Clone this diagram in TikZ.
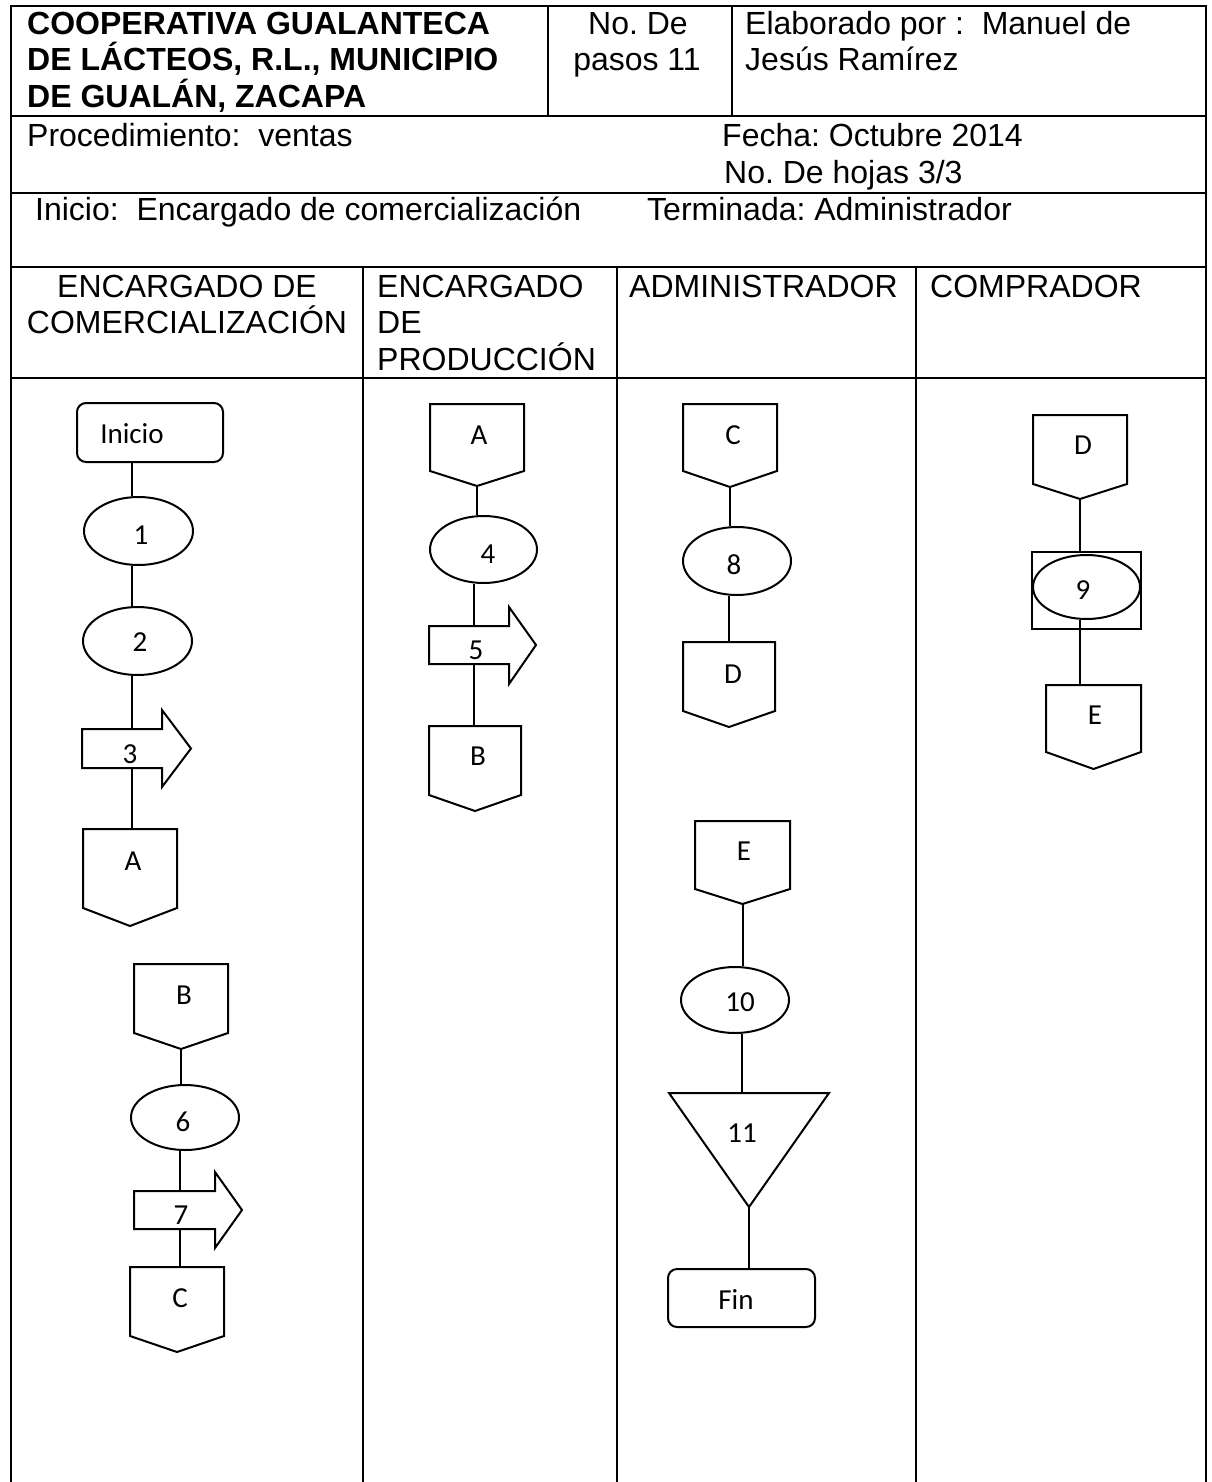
\documentclass[tikz,border=0pt]{standalone}
\usepackage{fontspec}
\setmainfont{Liberation Sans}
\newfontfamily\flowfont{Carlito}
\usetikzlibrary{shapes.geometric}
\frenchspacing

\tikzset{
  frame/.style={line width=1.9pt, line cap=rect},
  shp/.style={draw, line width=2pt, line join=miter},
  link/.style={line width=2pt},
  hdr/.style={font=\fontsize{32}{37}\selectfont, inner sep=0pt, anchor=base west},
  hdrb/.style={hdr, font=\fontsize{32}{37}\selectfont\bfseries},
  ftxt/.style={font=\flowfont\fontsize{29}{31}\selectfont, inner sep=0pt},
  oval/.style={shp, ellipse, inner sep=0pt},
  ghost/.style={inner sep=0pt, outer sep=0pt},
  termbox/.style={shp, rounded corners=9pt, inner sep=0pt},
}

% off-page connector: name, left, top, right, side bottom, tip y, text position, text
\newcommand\offpg[8]{%
  \node[ghost, minimum width={(#4)-(#2)}, minimum height={(#5)-(#3)}] (#1) at ({((#2)+(#4))/2},{((#3)+(#5))/2}) {};
  \coordinate (#1-tip) at ({((#2)+(#4))/2},#6);
  \draw[shp] (#1.north west) -- (#1.north east) -- (#1.south east) -- (#1-tip) -- (#1.south west) -- cycle;
  \node[ftxt] (#1-txt) at #7 {#8};
}
% block arrow: name, left, body top, head base x, body bottom, head top, head bottom, tip x
\newcommand\blkarrow[8]{%
  \node[ghost, minimum width={(#4)-(#2)}, minimum height={(#5)-(#3)}] (#1) at ({((#2)+(#4))/2},{((#3)+(#5))/2}) {};
  \draw[shp] (#1.north west) -- (#1.north east) -- (#4,#6) -- (#8,{((#3)+(#5))/2}) -- (#4,#7) -- (#1.south east) -- (#1.south west) -- cycle;
}

\begin{document}
\begin{tikzpicture}[x=1pt,y=-1pt]
\useasboundingbox (0,0) rectangle (1211,1482);

% ---------- frame ----------
\draw[frame] (11,1482) -- (11,6) -- (1206,6) -- (1206,1482);
\draw[frame] (11,116) -- (1206,116);
\draw[frame] (11,193) -- (1206,193);
\draw[frame] (11,267) -- (1206,267);
\draw[frame] (11,378) -- (1206,378);
\draw[frame] (548,6) -- (548,116);
\draw[frame] (732,6) -- (732,116);
\draw[frame] (363,267) -- (363,1482);
\draw[frame] (617,267) -- (617,1482);
\draw[frame] (916,267) -- (916,1482);

% ---------- header texts ----------
\node[hdrb] (t1) at (27,35) {COOPERATIVA GUALANTECA};
\node[hdrb] (t2) at (27,71) {DE LÁCTEOS, R.L., MUNICIPIO};
\node[hdrb] (t3) at (27,108) {DE GUALÁN, ZACAPA};
\node[hdr, anchor=base] (n1) at (638,35) {No. De};
\node[hdr, anchor=base] (n2) at (637,71) {pasos 11};
\node[hdr] (el1) at (745,35) {Elaborado por :\ \ Manuel de};
\node[hdr] (el2) at (745,71) {Jesús Ramírez};
\node[hdr] (pr) at (27,147) {Procedimiento:\ \ ventas};
\node[hdr] (fe) at (722,147) {Fecha: Octubre 2014};
\node[hdr] (ho) at (724,183) {No. De hojas 3/3};
\node[hdr] (inl) at (35,220) {Inicio:\ \ Encargado de comercialización};
\node[hdr] (te) at (647,220) {Terminada: Administrador};
\node[hdr, anchor=base] (l1a) at (187,297) {ENCARGADO DE};
\node[hdr, anchor=base] (l1b) at (187,333) {COMERCIALIZACIÓN};
\node[hdr] (l2a) at (377,297) {ENCARGADO};
\node[hdr] (l2b) at (377,333) {DE};
\node[hdr] (l2c) at (377,370) {PRODUCCIÓN};
\node[hdr] (l3) at (629,297) {ADMINISTRADOR};
\node[hdr] (l4) at (930,297) {COMPRADOR};

% ---------- spines ----------
\coordinate (s1) at (132,0);
\coordinate (s1b) at (180,0);
\coordinate (s2) at (474,0);
\coordinate (s3) at (729,0);
\coordinate (s3b) at (742,0);
\coordinate (s4) at (1080,0);

% ---------- lane 1 ----------
\node[termbox, minimum width=146, minimum height=59] (ini) at (150,432.5) {};
\node[ftxt] (ini-txt) at (132,434) {Inicio};
\node[oval, minimum width=109, minimum height=68] (e1) at (138.5,531) {};
\node[ftxt] (e1-txt) at (141,535) {1};
\node[oval, minimum width=109, minimum height=68] (e2) at (137.5,641) {};
\node[ftxt] (e2-txt) at (140,642) {2};
\blkarrow{a3}{82}{729}{162}{768}{710}{787}{191}
\node[ftxt] (a3-txt) at (130,754) {3};
\offpg{c1A}{83}{829}{177}{908}{926}{(133,861)}{A}

\offpg{c1B}{134}{964}{228}{1033}{1049}{(184,995)}{B}
\node[oval, minimum width=108, minimum height=65] (e6) at (185,1117.5) {};
\node[ftxt] (e6-txt) at (183,1122) {6};
\blkarrow{a7}{134}{1191}{215}{1229}{1172}{1248}{242}
\node[ftxt] (a7-txt) at (181,1215) {7};
\offpg{c1C}{130}{1267}{224}{1336}{1352}{(180,1298)}{C}

% ---------- lane 2 ----------
\offpg{c2A}{430}{404}{524}{471}{486}{(479,435)}{A}
\node[oval, minimum width=107, minimum height=67] (e4) at (483.5,549.5) {};
\node[ftxt] (e4-txt) at (488,554) {4};
\blkarrow{a5}{429}{626}{509}{664}{607}{684}{536}
\node[ftxt] (a5-txt) at (476,650) {5};
\offpg{c2B}{429}{726}{521}{795}{811}{(478,756)}{B}

% ---------- lane 3 ----------
\offpg{c3C}{683}{404}{777}{471}{487}{(733,435)}{C}
\node[oval, minimum width=108, minimum height=68] (e8) at (737,561) {};
\node[ftxt] (e8-txt) at (734,565) {8};
\offpg{c3D}{683}{642}{775}{711}{727}{(733,674)}{D}

\offpg{c3E}{695}{821}{790}{889}{904}{(744,851)}{E}
\node[oval, minimum width=108, minimum height=66] (e10) at (735,1000) {};
\node[ftxt] (e10-txt) at (740,1002) {10};
\node[ghost, minimum width=160, minimum height=114] (t11) at (749,1150) {};
\draw[shp] (t11.north west) -- (t11.north east) -- (t11.south) -- cycle;
\node[ftxt] (t11-txt) at (742,1133) {11};
\node[termbox, minimum width=147, minimum height=58] (fin) at (741.5,1298) {};
\node[ftxt] (fin-txt) at (736,1300) {Fin};

% ---------- lane 4 ----------
\offpg{c4D}{1033}{415}{1127}{484}{499}{(1083,445)}{D}
\node[shp, inner sep=0pt, minimum width=109, minimum height=77] (r9) at (1086.5,590.5) {};
\node[oval, minimum width=107, minimum height=64] (e9) at (1086.5,587) {};
\node[ftxt] (e9-txt) at (1083,590) {9};
\offpg{c4E}{1046}{685}{1141}{752}{769}{(1095,715)}{E}

% ---------- connectors ----------
\draw[link] (ini.south -| s1) -- (e1.north -| s1);
\draw[link] (e1.south -| s1) -- (e2.north -| s1);
\draw[link] (e2.south -| s1) -- (a3.north -| s1);
\draw[link] (a3.south -| s1) -- (c1A.north -| s1);

\draw[link] (c1B-tip) -- (e6.north -| c1B-tip);
\draw[link] (e6.south -| s1b) -- (a7.north -| s1b);
\draw[link] (a7.south -| s1b) -- (c1C.north -| s1b);

\draw[link] (c2A-tip) -- (e4.north -| c2A-tip);
\draw[link] (e4.south -| s2) -- (a5.north -| s2);
\draw[link] (a5.south -| s2) -- (c2B.north -| s2);

\draw[link] (c3C-tip) -- (e8.north -| c3C-tip);
\draw[link] (e8.south -| s3) -- (c3D.north -| s3);

\draw[link] (c3E-tip) -- (e10.north -| c3E-tip);
\draw[link] (e10.south -| s3b) -- (t11.north -| s3b);
\draw[link] (t11.south) -- (fin.north -| t11.south);

\draw[link] (c4D-tip) -- (r9.north -| c4D-tip);
\draw[link] (e9.south -| s4) -- (c4E.north -| s4);
\end{tikzpicture}
\end{document}
